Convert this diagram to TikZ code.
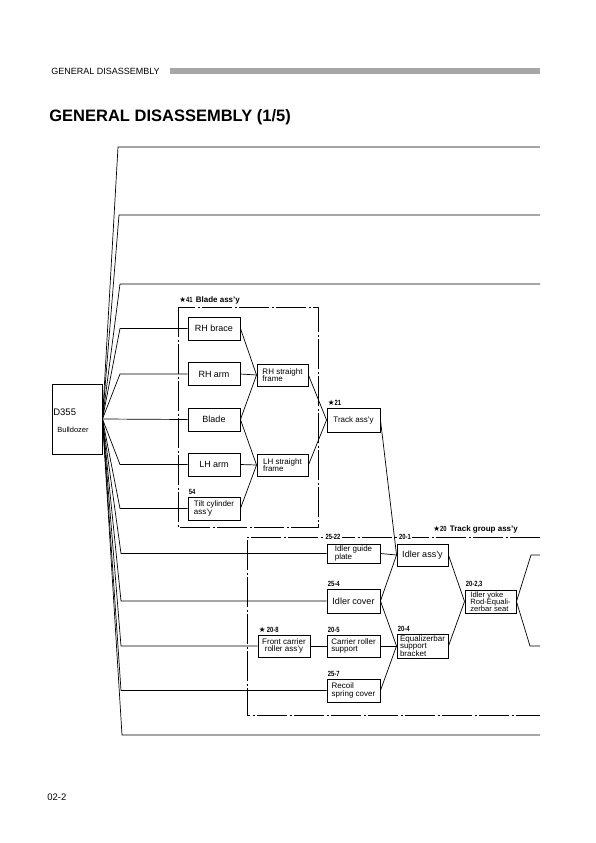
\documentclass[tikz,border=0pt]{standalone}
\usepackage{fontspec}
\setmainfont{Liberation Sans}
\newfontfamily\symfont{DejaVu Sans}
\newfontfamily\tagfont[FakeStretch=0.78]{Liberation Sans}
\newcommand{\stm}{{\symfont\fontsize{7.5}{8}\selectfont ★}}
\begin{document}
\begin{tikzpicture}[x=1pt,y=-1pt,line width=0.7pt,
	part/.style={draw,line width=0.9pt,inner sep=1pt,minimum width=52pt,minimum height=23pt,font=\fontsize{9}{9.5}\selectfont},
	partsm/.style={part,font=\fontsize{8}{7.6}\selectfont,align=left},
	tag/.style={anchor=south west,inner sep=1pt,yshift=1pt,font=\tagfont\bfseries\fontsize{7.5}{8}\selectfont},
	online/.style={fill=white,inner sep=1.5pt,font=\tagfont\bfseries\fontsize{7.5}{8}\selectfont},
	grp/.style={dash pattern=on 30pt off 2.5pt on 2pt off 2.5pt}]
	\useasboundingbox (0,0) rectangle (596,843);
	\node[anchor=west,inner sep=0,font=\fontsize{9}{10}\selectfont] (hdr) at (51,71) {GENERAL DISASSEMBLY};
	\fill[black!35] (170,68) rectangle (540,74);
	\node[anchor=west,inner sep=0,font=\bfseries\fontsize{16.5}{18}\selectfont] (title) at (49,117) {GENERAL DISASSEMBLY (1/5)};
	\node[anchor=west,inner sep=0,font=\fontsize{9.5}{10}\selectfont] (page) at (47,797) {02-2};
	\node[part,minimum width=50pt,minimum height=70pt] (d355) at (77,419) {};
	\node[anchor=west,inner sep=0,font=\fontsize{9.5}{10}\selectfont] (d355a) at (53,412) {D355};
	\node[anchor=west,inner sep=0,font=\fontsize{7.5}{8}\selectfont] (d355b) at (57,430) {Bulldozer};
	\node[part] (rhbrace) at (214,328.5) {RH brace};
	\node[part] (rharm) at (214,374) {RH arm};
	\node[part] (blade) at (214,419.5) {Blade};
	\node[part] (lharm) at (214,464.5) {LH arm};
	\node[partsm] (tilt) at (214,508.5) {Tilt cylinder\\ass'y};
	\node[partsm,minimum width=51pt,minimum height=22pt] (rhframe) at (282.5,375) {RH straight\\frame};
	\node[partsm,minimum width=51pt,minimum height=22pt] (lhframe) at (282.5,465) {LH straight\\frame};
	\node[partsm,minimum width=53pt,minimum height=24pt] (track) at (353.5,420) {Track ass'y};
	\node[partsm,minimum width=53pt,minimum height=19pt] (guide) at (353.5,553.5) {Idler guide\\plate};
	\node[part,minimum width=53pt,minimum height=24pt] (cover) at (353.5,601) {Idler cover};
	\node[partsm,align=center,minimum height=22pt] (front) at (284,646) {Front carrier\\roller ass'y};
	\node[partsm,minimum width=53pt,minimum height=22pt] (carrier) at (353.5,646) {Carrier roller\\support};
	\node[partsm,minimum width=53pt] (recoil) at (353.5,690.5) {Recoil\\spring cover};
	\node[part,minimum width=51pt,minimum height=22pt] (idler) at (422.5,555) {Idler ass'y};
	\node[partsm,minimum width=51pt,minimum height=24pt,inner sep=0.5pt] (equal) at (422.5,646) {Equalizerbar\\support\\bracket};
	\node[partsm,minimum width=51pt,minimum height=23pt,inner sep=0.5pt,font=\fontsize{7.6}{7.2}\selectfont] (yoke) at (490.5,601.5) {Idler yoke\\Rod-Equali-\\zerbar seat};
	\node[tag] (t54) at (tilt.north west) {54};
	\node[tag] (t21) at (track.north west) {\stm21};
	\node[tag] (t254) at (cover.north west) {25-4};
	\node[tag] (t208) at (front.north west) {\stm\,20-8};
	\node[tag] (t205) at (carrier.north west) {20-5};
	\node[tag] (t257) at (recoil.north west) {25-7};
	\node[tag] (t204) at (equal.north west) {20-4};
	\node[tag] (t2023) at (yoke.north west) {20-2,3};
	\coordinate (bx1) at (178,307);
	\coordinate (bx2) at (318,527);
	\draw[grp] (bx1) rectangle (bx2);
	\node[tag,anchor=south west] (t41) at (bx1) {\stm41\ \ {\normalfont\bfseries\fontsize{8}{9}\selectfont Blade ass'y}};
	\coordinate (tg1) at (540,537);
	\coordinate (tg2) at (247,537);
	\coordinate (tg3) at (247,715);
	\coordinate (tg4) at (540,715);
	\draw[grp] (tg1) -- (tg2) -- (tg3) -- (tg4);
	\node[online] (t2522) at (333,537) {25-22};
	\node[online] (t201) at (405,537) {20-1};
	\node[tag] (t20) at (432,536) {\stm20\ \ {\normalfont\bfseries\fontsize{8}{9}\selectfont Track group ass'y}};
	\foreach \n/\x/\y in {1/118/147,2/119/215,3/120/284,4/122/735}{
		\coordinate (k\n) at (\x,\y);
		\coordinate (r\n) at (540,\y);
		\draw (d355.east) -- (k\n) -- (r\n);
	}
	\foreach \n/\y in {rhbrace/328.5,rharm/374,lharm/464.5,tilt/508.5}{
		\coordinate (k\n) at (120,\y);
		\draw (d355.east) -- (k\n) -- (\n.west);
	}
	\draw (d355.east) -- (blade.west);
	\foreach \n/\y in {guide/553.5,cover/601,front/646,recoil/690.5}{
		\coordinate (k\n) at (121,\y);
		\draw (d355.east) -- (k\n) -- (\n.west);
	}
	\draw (rhbrace.east) -- (rhframe.west);
	\draw (rharm.east) -- (rhframe.west);
	\draw (blade.east) -- (rhframe.west);
	\draw (blade.east) -- (lhframe.west);
	\draw (lharm.east) -- (lhframe.west);
	\draw (tilt.east) -- (lhframe.west);
	\draw (rhframe.east) -- (track.west);
	\draw (lhframe.east) -- (track.west);
	\draw (track.east) -- (idler.west);
	\draw (guide.east) -- (idler.west);
	\draw (cover.east) -- (idler.west);
	\draw (cover.east) -- (equal.west);
	\draw (front.east) -- (carrier.west);
	\draw (carrier.east) -- (equal.west);
	\draw (recoil.east) -- (equal.west);
	\draw (idler.east) -- (yoke.west);
	\draw (equal.east) -- (yoke.west);
	\coordinate (y1) at (531,555);
	\coordinate (y1e) at (540,555);
	\coordinate (y2) at (530,646);
	\coordinate (y2e) at (540,646);
	\draw (yoke.east) -- (y1) -- (y1e);
	\draw (yoke.east) -- (y2) -- (y2e);
\end{tikzpicture}
\end{document}
